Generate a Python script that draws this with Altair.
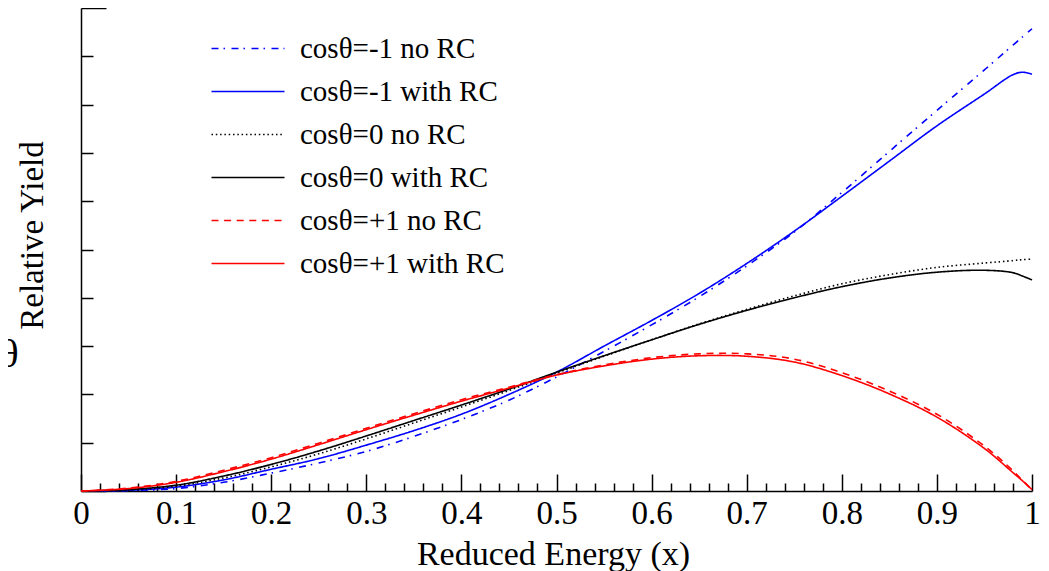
import altair as alt
import pandas as pd

# ---- data (y in units of the y tick spacing) ----
x_vals = [0, 0.05, 0.1, 0.15, 0.2, 0.25, 0.3, 0.35, 0.4, 0.45, 0.5, 0.55,
          0.6, 0.65, 0.7, 0.75, 0.8, 0.85, 0.9, 0.95, 0.98, 0.99, 1.0]

blue_no = [0, 0.01, 0.05, 0.18, 0.37, 0.58, 0.82, 1.13, 1.48, 1.88, 2.36, 2.89,
           3.44, 4.02, 4.66, 5.36, 6.18, 7.03, 7.88, 8.72, 9.23, 9.40, 9.57]
blue_rc = [0, 0.015, 0.08, 0.23, 0.45, 0.67, 0.95, 1.25, 1.59, 2.00, 2.46, 3.00,
           3.53, 4.09, 4.71, 5.38, 6.10, 6.83, 7.56, 8.22, 8.62, 8.67, 8.63]
black_no = [0, 0.02, 0.10, 0.27, 0.50, 0.77, 1.08, 1.41, 1.74, 2.08, 2.44, 2.79,
            3.13, 3.46, 3.76, 4.04, 4.29, 4.48, 4.63, 4.72, 4.77, 4.79, 4.80]
black_rc = [0, 0.03, 0.12, 0.31, 0.55, 0.83, 1.14, 1.46, 1.78, 2.11, 2.46, 2.80,
            3.13, 3.45, 3.74, 4.00, 4.23, 4.41, 4.53, 4.57, 4.52, 4.45, 4.37]
red_no = [0, 0.06, 0.20, 0.43, 0.69, 0.99, 1.30, 1.60, 1.89, 2.15, 2.41, 2.61,
          2.76, 2.84, 2.84, 2.73, 2.45, 2.07, 1.59, 0.93, 0.42, 0.22, 0.03]
red_rc = [0, 0.05, 0.18, 0.40, 0.66, 0.96, 1.27, 1.57, 1.86, 2.13, 2.40, 2.59,
          2.73, 2.80, 2.79, 2.67, 2.39, 2.01, 1.53, 0.88, 0.38, 0.21, 0.03]

labels = ["cosθ=-1 no RC", "cosθ=-1 with RC", "cosθ=0 no RC",
          "cosθ=0 with RC", "cosθ=+1 no RC", "cosθ=+1 with RC"]
series_values = [blue_no, blue_rc, black_no, black_rc, red_no, red_rc]
colors = ["#0000ff", "#0000ff", "#000000", "#000000", "#ff0000", "#ff0000"]
dashes = [[7, 5, 1.5, 6.5], [1, 0], [1.5, 2.8], [1, 0], [7, 5.6], [1, 0]]

x_major = [0, 0.1, 0.2, 0.3, 0.4, 0.5, 0.6, 0.7, 0.8, 0.9, 1.0]
x_minor = [0.02, 0.04, 0.06, 0.08, 0.12, 0.14, 0.16, 0.18, 0.22, 0.24, 0.26, 0.28,
           0.32, 0.34, 0.36, 0.38, 0.42, 0.44, 0.46, 0.48, 0.52, 0.54, 0.56, 0.58,
           0.62, 0.64, 0.66, 0.68, 0.72, 0.74, 0.76, 0.78, 0.82, 0.84, 0.86, 0.88,
           0.92, 0.94, 0.96, 0.98]
y_minor = [1, 2, 3, 4, 5, 6, 7, 8, 9]
y_major = [0, 10]

rows = []
for lab, ys in zip(labels, series_values):
    for i, (xv, yv) in enumerate(zip(x_vals, ys)):
        rows.append({"x": xv, "y": yv, "series": lab, "order": i})
df = pd.DataFrame(rows)

FONT = "Liberation Serif"
xscale = alt.Scale(domain=[0, 1], nice=False, zero=False)
yscale = alt.Scale(domain=[0, 10], nice=False, zero=False)

legend = alt.Legend(
    orient="none", legendX=126, legendY=26, title=None,
    symbolType="M-1,0H6.3", symbolSize=400, symbolStrokeWidth=1.6,
    symbolFillColor="transparent",
    labelFont=FONT, labelFontSize=29, labelColor="black", labelOffset=64,
    labelLimit=500, rowPadding=13, padding=0,
)

lines = alt.Chart(df).mark_line(strokeWidth=1.6, interpolate="catmull-rom").encode(
    x=alt.X("x:Q", scale=xscale, axis=alt.Axis(
        values=x_major, format=".1~f", orient="bottom", ticks=False, grid=False,
        domainColor="black", domainWidth=1.5, labelFont=FONT, labelFontSize=33,
        labelColor="black", labelPadding=6, labelFlush=False,
        title="Reduced Energy (x)", titleFont=FONT, titleFontSize=34,
        titleFontWeight="normal", titleColor="black", titlePadding=7,
        titleX=472)),
    y=alt.Y("y:Q", scale=yscale, axis=alt.Axis(
        orient="left", ticks=False, labels=False, grid=False,
        domainColor="black", domainWidth=1.5,
        title="Relative Yield", titleFont=FONT, titleFontSize=33,
        titleFontWeight="normal", titleColor="black", titlePadding=32,
        titleY=227)),
    color=alt.Color("series:N", scale=alt.Scale(domain=labels, range=colors), legend=legend),
    strokeDash=alt.StrokeDash("series:N", scale=alt.Scale(domain=labels, range=dashes), legend=legend),
    order="order:Q",
)


def x_ticks(vals, size):
    return alt.Chart(pd.DataFrame({"t": vals})).mark_point(opacity=0).encode(
        x=alt.X("t:Q", scale=xscale, axis=alt.Axis(
            values=vals, orient="bottom", offset=-size, tickSize=size, tickWidth=1.5,
            tickColor="black", domain=False, labels=False, grid=False, title=None)))


def y_ticks(vals, size):
    return alt.Chart(pd.DataFrame({"t": vals})).mark_point(opacity=0).encode(
        y=alt.Y("t:Q", scale=yscale, axis=alt.Axis(
            values=vals, orient="left", offset=-size, tickSize=size, tickWidth=1.5,
            tickColor="black", domain=False, labels=False, grid=False, title=None)))


theta = alt.Chart(pd.DataFrame({"t": ["θ"]})).mark_text(
    font=FONT, fontSize=40, align="center", baseline="middle", color="black"
).encode(text="t:N", x=alt.value(-72), y=alt.value(347))

chart = alt.layer(
    lines, x_ticks(x_minor, 8), x_ticks(x_major, 17),
    y_ticks(y_minor, 12), y_ticks(y_major, 25), theta
).resolve_axis(x="independent", y="independent").properties(
    width=951, height=483,
    autosize=alt.AutoSizeParams(type="none"),
    padding={"left": 73, "top": 0, "right": 9, "bottom": 80},
).configure_view(strokeWidth=0)

chart.save("out.html", embed_options={"renderer": "svg", "actions": False})
